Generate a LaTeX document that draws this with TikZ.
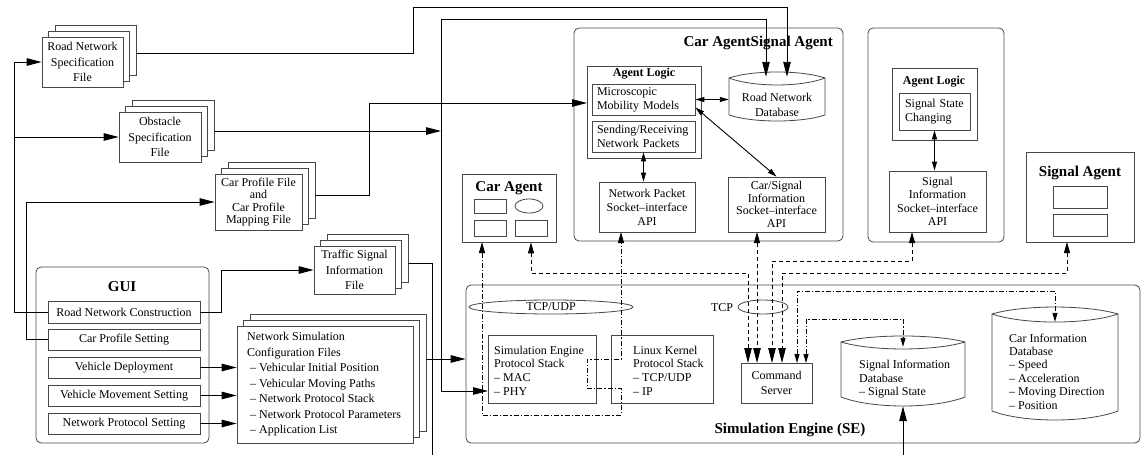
\documentclass[tikz,border=0pt]{standalone}
\usepackage{fontspec}
\setmainfont{Liberation Serif}
\usetikzlibrary{arrows.meta,shadows,shapes.geometric}
\newcommand\mkbox[7][]{\node[box,#1,minimum width={#5pt-#3pt},minimum height={#6pt-#4pt}] (#2) at ({(#3+#5)/2},{(#4+#6)/2}) {#7};}
\tikzset{
 tipB/.tip={Triangle[length=15pt,width=7.5pt]},
 tipM/.tip={Triangle[length=11pt,width=6pt]},
 tipS/.tip={Triangle[length=9pt,width=5pt]},
 bc/.style={draw=black!72, line width=0.8pt},
 box/.style={bc, fill=white, inner sep=0pt, align=center, font=\fontsize{12}{14}\selectfont},
 rbox/.style={rounded corners=5pt},
 lsp/.style={font=\fontsize{12}{#1}\selectfont},
 txt/.style={inner sep=0pt, align=left, font=\fontsize{12}{14}\selectfont},
 ttl/.style={inner sep=0pt, font=\bfseries\fontsize{15}{18}\selectfont},
 sttl/.style={inner sep=0pt, font=\bfseries\fontsize{12}{14}\selectfont},
 stack/.style={general shadow={shadow xshift=13pt,shadow yshift=12pt,fill=white,draw=black!72,line width=0.8pt},
               general shadow={shadow xshift=6.5pt,shadow yshift=6pt,fill=white,draw=black!72,line width=0.8pt}},
 conn/.style={draw=black, line width=0.9pt},
 dsh/.style={conn, dash pattern=on 4pt off 3pt},
 ddot/.style={conn, dash pattern=on 5pt off 2pt on 1.2pt off 2pt},
 dbn/.style={inner sep=0pt},
}
\begin{document}
\begin{tikzpicture}[x=1pt,y=-1pt]
\fill[white] (0,0) rectangle (1141,455);
\useasboundingbox (0,0) rectangle (1141,455);

% ---------- GUI ----------
\mkbox[rbox]{gui}{36}{267}{209}{443}{}
\node[ttl] (guit) at (122,287) {GUI};
\mkbox{rnc}{48}{301}{200}{323}{Road Network Construction}
\mkbox{cps}{48}{329}{200}{350}{Car Profile Setting}
\mkbox{vd}{48}{357}{200}{378}{Vehicle Deployment}
\mkbox{vms}{48}{385}{200}{406}{Vehicle Movement Setting}
\mkbox{nps}{48}{413}{200}{434}{Network Protocol Setting}

% ---------- files ----------
\mkbox[stack,lsp=15.5]{rnf}{42}{37}{123}{87}{Road Network\\Specification\\File}
\mkbox[stack,lsp=15.5]{obf}{119}{112}{201}{162}{Obstacle\\Specification\\File}
\mkbox[stack,lsp=12.5]{cpf}{215}{174}{302}{230}{Car Profile File\\and\\Car Profile\\Mapping File}
\mkbox[stack,lsp=15.5]{tsf}{314}{246}{395}{294}{Traffic Signal\\Information\\File}
\mkbox[stack]{nsc}{237}{326}{413}{443}{}
\node[txt,lsp=15.5,anchor=west] (nsct) at (247,384.5) {Network Simulation\\Configuration Files\\\hspace*{3pt}-- Vehicular Initial Position\\\hspace*{3pt}-- Vehicular Moving Paths\\\hspace*{3pt}-- Network Protocol Stack\\\hspace*{3pt}-- Network Protocol Parameters\\\hspace*{3pt}-- Application List};

% ---------- car agent logic ----------
\mkbox[rbox]{caa}{574}{28}{843}{241}{}
\node[ttl,anchor=east] (caat) at (833,43) {Car AgentSignal Agent};
\mkbox{al1}{587}{66}{701}{158}{}
\node[sttl] (al1t) at (644,74) {Agent Logic};
\mkbox[align=left,text width=93pt]{mmm}{592}{84}{695}{115}{Microscopic\\Mobility Models}
\mkbox[align=left,text width=93pt]{srp}{592}{121}{695}{152}{Sending/Receiving\\Network Packets}
\draw[bc,fill=white] (729,78) .. controls (753,70) and (801,70) .. (825,78) -- (825,115) .. controls (801,123) and (753,123) .. (729,115) -- cycle;
\draw[bc] (729,78) .. controls (753,87.3) and (801,87.3) .. (825,78);
\node[dbn, minimum width=96pt, minimum height=49pt] (rndb) at (777,96.5) {};
\node[txt,align=center,lsp=15] (rndbt) at (777,104.5) {Road Network\\Database};
\mkbox{npapi}{599}{182}{695}{232}{Network Packet\\Socket--interface\\API}
\mkbox[lsp=12.5]{csapi}{728}{177}{825}{232}{Car/Signal\\Information\\Socket--interface\\API}

% ---------- car agent ----------
\mkbox{cag}{462}{174}{556}{242}{}
\node[ttl] (cagt) at (509,188) {Car Agent};
\mkbox{ca1}{474}{199}{506}{213}{}
\node[bc, ellipse, minimum width=28pt, minimum height=14pt, inner sep=0pt] (ca2) at (529,206) {};
\mkbox{ca3}{474}{220}{506}{236}{}
\mkbox{ca4}{515}{220}{547}{236}{}

% ---------- signal agent logic ----------
\mkbox[rbox]{saa}{868}{28}{1004}{242}{}
\mkbox{al2}{892}{68}{977}{140}{}
\node[sttl] (al2t) at (934,82) {Agent Logic};
\mkbox[align=left,text width=59pt]{ssc}{899}{93}{970}{130}{Signal State\\Changing}
\mkbox[lsp=13.5]{siapi}{889}{171}{986}{232}{Signal\\Information\\Socket--interface\\API}

% ---------- signal agent ----------
\mkbox{sag}{1026}{152}{1134}{242}{}
\node[ttl] (sagt) at (1080,173) {Signal Agent};
\mkbox{sa1}{1053}{186}{1107}{208}{}
\mkbox{sa2}{1053}{214}{1107}{236}{}

% ---------- simulation engine ----------
\mkbox[rbox]{se}{466}{285}{1140}{443}{}
\node[ttl] (set) at (790,430) {Simulation Engine (SE)};
\node[bc, ellipse, minimum width=164pt, minimum height=14pt, inner sep=0pt] (tcpudp) at (551,307) {};
\node[txt] (tcpudpt) at (551,307) {TCP/UDP};
\node[bc, ellipse, minimum width=50pt, minimum height=14pt, inner sep=0pt] (tcp) at (763,307) {};
\node[txt] (tcpt) at (722,308) {TCP};
\mkbox{sesp}{488}{335}{596}{403}{}
\node[txt,lsp=13.7,anchor=west] (sespt) at (494,370.5) {Simulation Engine\\Protocol Stack\\-- MAC\\-- PHY};
\mkbox{lksp}{611}{335}{713}{403}{}
\node[txt,lsp=13.7,anchor=west] (lkspt) at (633,370.5) {Linux Kernel\\Protocol Stack\\-- TCP/UDP\\-- IP};
\mkbox[lsp=15]{cmd}{741}{363}{812}{403}{Command\\Server}

\draw[bc,fill=white] (841,342) .. controls (872,334) and (934,334) .. (965,342) -- (965,397) .. controls (934,409) and (872,409) .. (841,397) -- cycle;
\draw[bc] (841,342) .. controls (872,351.3) and (934,351.3) .. (965,342);
\node[dbn, minimum width=124pt, minimum height=70pt] (sidb) at (903,371) {};
\node[txt,lsp=13.5,anchor=west] (sidbt) at (859,379.5) {Signal Information\\Database\\-- Signal State};

\draw[bc,fill=white] (992,314) .. controls (1023.5,304.7) and (1086.5,304.7) .. (1118,314) -- (1118,411) .. controls (1086.5,423) and (1023.5,423) .. (992,411) -- cycle;
\draw[bc] (992,314) .. controls (1023.5,324.7) and (1086.5,324.7) .. (1118,314);
\node[dbn, minimum width=126pt, minimum height=113pt] (cidb) at (1055,363.5) {};
\node[txt,lsp=13.4,anchor=west] (cidbt) at (1009,371.5) {Car Information\\Database\\-- Speed\\-- Acceleration\\-- Moving Direction\\-- Position};

% ---------- coordinates ----------
\coordinate (rnfb) at ([shift={(13,-9)}]rnf.east);
\coordinate (obfb) at ([shift={(13,-6)}]obf.east);
\coordinate (cpfb) at ([shift={(13,-7)}]cpf.east);
\coordinate (tsfb) at ([shift={(13,-7)}]tsf.east);
\coordinate (nscb) at ([shift={(13,-25.5)}]nsc.east);
\coordinate (vL) at (14,0);
\coordinate (vL2) at (26,0);
\coordinate (bus) at (441,0);
\coordinate (phy) at (488,391);
\coordinate (mmin) at (587,103);
\coordinate (caL) at (482,242);

% ---------- solid connectors ----------
\draw[conn,-tipB] (rnc.west) -| (vL |- rnf.west) -- (rnf.west);
\draw[conn,-tipB] (vL |- obf.west) -- (obf.west);
\draw[conn,-tipB] (cps.west) -| (vL2 |- cpf.west) -- (cpf.west);
\draw[conn,-tipB] (rnc.east) -- ++(21,0) |- (tsf.west);
\draw[conn,-tipB] (vd.east) -- (vd.east -| nsc.west);
\draw[conn,-tipB] (vms.east) -- (vms.east -| nsc.west);
\draw[conn,-tipB] (nps.east) -- (nps.east -| nsc.west);
\draw[conn,-tipB] (rnfb) -| (413,7) -| ([xshift=10pt,yshift=-5pt]rndb.north);
\draw[conn,-tipB] (obfb) -- (bus |- obfb);
\draw[conn,-tipB] (bus |- obfb) -- (441,19) -| ([xshift=-11pt,yshift=-5pt]rndb.north);
\draw[conn,-tipB] (bus |- obfb) |- (phy);
\draw[conn,-tipB] (cpfb) -| (369,103) -- (mmin);
\draw[conn,-tipB] (tsfb) -| (432,470) -| (sidb.south);
\draw[conn,-tipB] (nscb) -- (se.west |- nscb);
\draw[conn,tipS-tipS] (mmm.east) -- (mmm.east -| rndb.west);
\draw[conn,tipS-tipS] ([yshift=-8pt]mmm.east) -- (csapi.north);
\draw[conn,tipS-tipS] (srp.south) -- (srp.south |- npapi.north);
\draw[conn,tipS-tipS] (ssc.south) -- (ssc.south |- siapi.north);

% ---------- dashed / dash-dot connectors ----------
\draw[ddot,tipM-tipM] (caL) |- (621,415) |- (587,388) |- (621,359) -- (621,232);
\draw[dsh,tipM-tipB] (ca4.south |- cag.south) |- (748,273) -- (748,363);
\draw[dsh,tipM-tipB] (757,232) -- (757,363);
\draw[dsh,tipM-tipB] (912,232) |- (772,261) -- (772,363);
\draw[dsh,tipM-tipB] (1067,242) |- (782,273) -- (782,363);
\draw[ddot,tipS-tipS] (797,363) |- (1055,291) -- ([yshift=-15pt]cidb.north);
\draw[ddot,tipS-tipS] (806,363) |- (903,319) -- ([yshift=-11pt]sidb.north);
\end{tikzpicture}
\end{document}
